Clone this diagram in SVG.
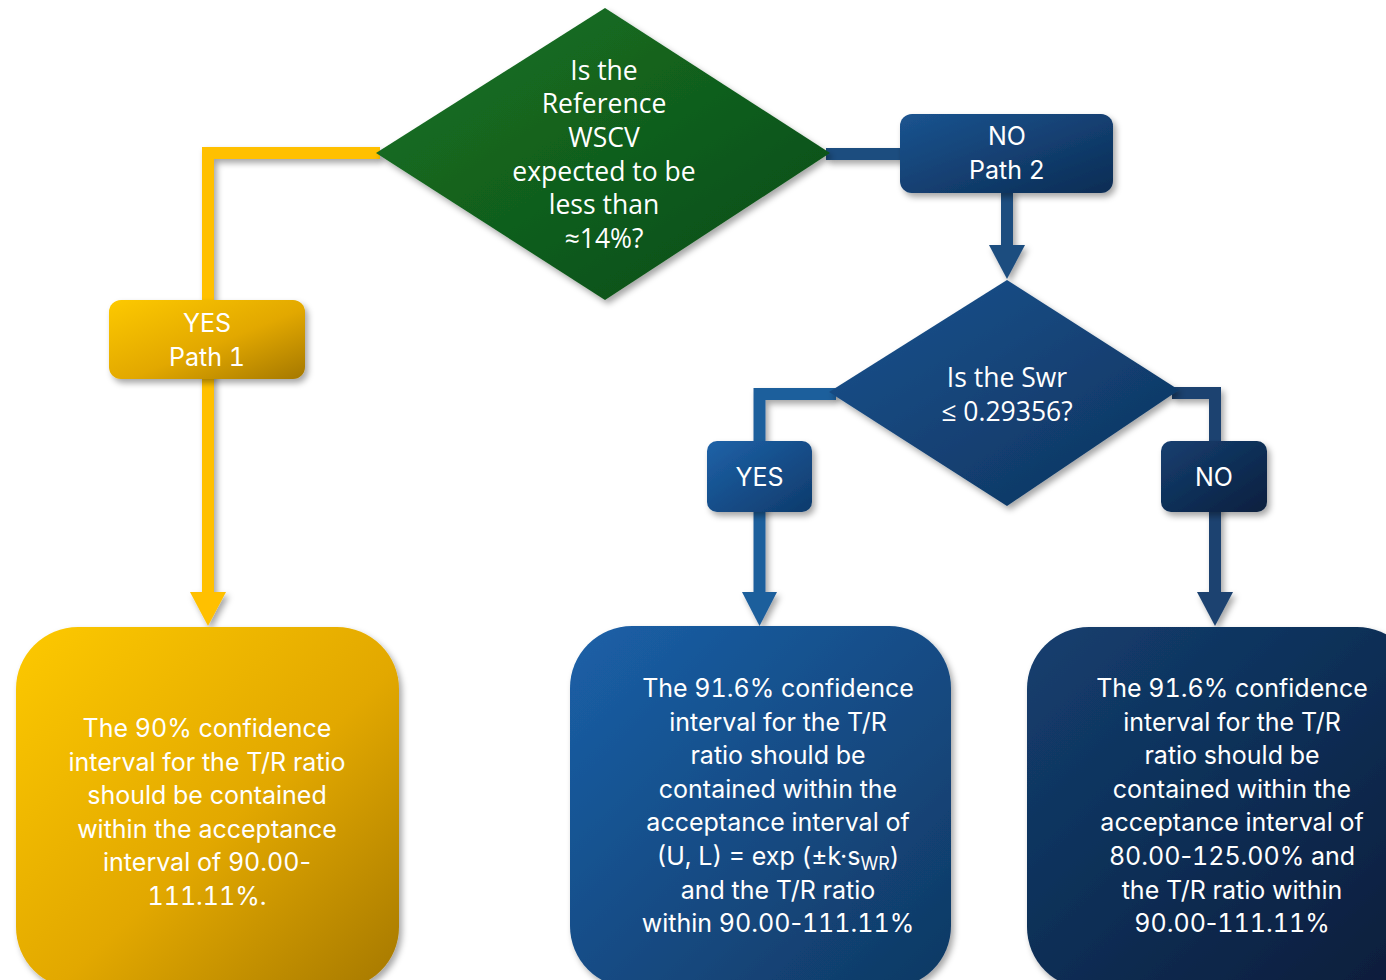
<svg xmlns="http://www.w3.org/2000/svg" width="1386" height="980" viewBox="0 0 1386 980">
<defs>
  <filter id="sh" x="-20%" y="-20%" width="140%" height="140%">
    <feDropShadow dx="3" dy="4" stdDeviation="3" flood-color="#000" flood-opacity="0.35"/>
  </filter>
  <linearGradient id="gGold" x1="0" y1="0" x2="1" y2="1">
    <stop offset="0" stop-color="#fdc900"/>
    <stop offset="0.55" stop-color="#e2a800"/>
    <stop offset="1" stop-color="#a57800"/>
  </linearGradient>
  <linearGradient id="gGreen" x1="0" y1="0" x2="1" y2="1">
    <stop offset="0" stop-color="#177424"/>
    <stop offset="1" stop-color="#0b4a16"/>
  </linearGradient>
  <linearGradient id="gBlue1" x1="0" y1="0" x2="1" y2="1">
    <stop offset="0" stop-color="#1b5490"/>
    <stop offset="1" stop-color="#0b2c54"/>
  </linearGradient>
  <linearGradient id="gBlueD" x1="0" y1="0" x2="1" y2="1">
    <stop offset="0" stop-color="#1a5390"/>
    <stop offset="1" stop-color="#0d325c"/>
  </linearGradient>
  <linearGradient id="gBlueYes" x1="0" y1="0" x2="1" y2="1">
    <stop offset="0" stop-color="#1e62a8"/>
    <stop offset="1" stop-color="#0e3a6b"/>
  </linearGradient>
  <linearGradient id="gBlueNo" x1="0" y1="0" x2="1" y2="1">
    <stop offset="0" stop-color="#163f70"/>
    <stop offset="1" stop-color="#081f3e"/>
  </linearGradient>
  <linearGradient id="gBlueMid" x1="0" y1="0" x2="1" y2="1">
    <stop offset="0" stop-color="#1b60a8"/>
    <stop offset="1" stop-color="#0f3862"/>
  </linearGradient>
  <linearGradient id="gBlueRight" x1="0" y1="0" x2="1" y2="1">
    <stop offset="0" stop-color="#143f70"/>
    <stop offset="1" stop-color="#071c39"/>
  </linearGradient>
  <style>
    .lbl { font-family: Inter, "Liberation Sans", sans-serif; font-size: 25px; fill: #ffffff; text-anchor: middle; font-feature-settings: "tnum"; font-variant-numeric: tabular-nums; }
    .q { font-family: "Open Sans", "Noto Sans", sans-serif; font-size: 26.5px; fill: #ffffff; text-anchor: middle; }
    .body { font-family: Inter, "Liberation Sans", sans-serif; font-size: 25px; fill: #ffffff; text-anchor: middle; font-feature-settings: "tnum"; font-variant-numeric: tabular-nums; }
    .h { font-feature-settings: normal; font-variant-numeric: normal; }
    .ln { fill: none; stroke-width: 12; stroke-linejoin: miter; }
  </style>
</defs>
<rect width="1386" height="980" fill="#ffffff"/>

<g id="connectors" filter="url(#sh)">
  <path class="ln" d="M 380 153 H 208 V 596" stroke="#ffc000"/>
  <polygon points="190,592 226,592 208,626" fill="#ffc000"/>
  <path class="ln" d="M 826 154 H 906" stroke="#1e4d7f"/>
  <path class="ln" d="M 1007 190 V 248" stroke="#1e4d7f"/>
  <polygon points="989,245 1025,245 1007,279" fill="#1e4d7f"/>
  <path class="ln" d="M 836 394 H 759.5 V 596" stroke="#1f5e9c"/>
  <polygon points="742,592 777,592 759.5,626" fill="#1f5e9c"/>
  <path class="ln" d="M 1172 393 H 1215 V 596" stroke="#1b426f"/>
  <polygon points="1197,592 1233,592 1215,626" fill="#1b426f"/>
</g>

<g id="q1">
  <polygon points="605,8 830,153 605,300 376,153" fill="url(#gGreen)" filter="url(#sh)"/>
  <text class="q" x="604" y="80">Is the</text>
  <text class="q" x="604" y="113">Reference</text>
  <text class="q" x="604" y="147">WSCV</text>
  <text class="q" x="604" y="181">expected to be</text>
  <text class="q" x="604" y="214">less than</text>
  <text class="q" x="604" y="248">≈14%?</text>
</g>

<g id="yes1">
  <rect x="109" y="300" width="196" height="79" rx="12" fill="url(#gGold)" filter="url(#sh)"/>
  <text class="lbl" x="207" y="332">YES</text>
  <text class="lbl" x="207" y="366">Path 1</text>
</g>

<g id="no2">
  <rect x="900" y="114" width="213" height="79" rx="12" fill="url(#gBlue1)" filter="url(#sh)"/>
  <text class="lbl" x="1007" y="145">NO</text>
  <text class="lbl" x="1007" y="179">Path 2</text>
</g>

<g id="q2">
  <polygon points="1007,280 1179,390 1007,506 829,392" fill="url(#gBlueD)" filter="url(#sh)"/>
  <text class="q" x="1007" y="387">Is the Swr</text>
  <text class="q" x="1007" y="421">≤ 0.29356?</text>
</g>

<g id="yes2">
  <rect x="707" y="441" width="105" height="71" rx="10" fill="url(#gBlueYes)" filter="url(#sh)"/>
  <text class="lbl" x="759.5" y="486">YES</text>
</g>

<g id="no3">
  <rect x="1161" y="441" width="106" height="71" rx="10" fill="url(#gBlueNo)" filter="url(#sh)"/>
  <text class="lbl" x="1214" y="486">NO</text>
</g>

<g id="out1">
  <rect x="16" y="627" width="383" height="362" rx="62" fill="url(#gGold)" filter="url(#sh)"/>
  <text class="body" x="207" y="737">The 90% confidence</text>
  <text class="body" x="207" y="770.5">interval for the T/R ratio</text>
  <text class="body" x="207" y="804">should be contained</text>
  <text class="body" x="207" y="837.5">within the acceptance</text>
  <text class="body" x="207" y="871">interval of 90.00<tspan class="h">-</tspan></text>
  <text class="body" x="207" y="904.5">111.11%.</text>
</g>

<g id="out2">
  <rect x="570" y="626" width="381" height="362" rx="62" fill="url(#gBlueMid)" filter="url(#sh)"/>
  <text class="body" x="778" y="697">The 91.6% confidence</text>
  <text class="body" x="778" y="730.6">interval for the T/R</text>
  <text class="body" x="778" y="764.2">ratio should be</text>
  <text class="body" x="778" y="797.8">contained within the</text>
  <text class="body" x="778" y="831.4">acceptance interval of</text>
  <text class="body" x="778" y="865">(U, L) = exp (±k·s<tspan font-size="18" dy="5">WR</tspan><tspan dy="-5">)</tspan></text>
  <text class="body" x="778" y="898.6">and the T/R ratio</text>
  <text class="body" x="778" y="932.2">within 90.00<tspan class="h">-</tspan>111.11%</text>
</g>

<g id="out3">
  <rect x="1027" y="627" width="392" height="362" rx="62" fill="url(#gBlueRight)" filter="url(#sh)"/>
  <text class="body" x="1232" y="697">The 91.6% confidence</text>
  <text class="body" x="1232" y="730.6">interval for the T/R</text>
  <text class="body" x="1232" y="764.2">ratio should be</text>
  <text class="body" x="1232" y="797.8">contained within the</text>
  <text class="body" x="1232" y="831.4">acceptance interval of</text>
  <text class="body" x="1232" y="865">80.00<tspan class="h">-</tspan>125.00% and</text>
  <text class="body" x="1232" y="898.6">the T/R ratio within</text>
  <text class="body" x="1232" y="932.2">90.00<tspan class="h">-</tspan>111.11%</text>
</g>
</svg>
